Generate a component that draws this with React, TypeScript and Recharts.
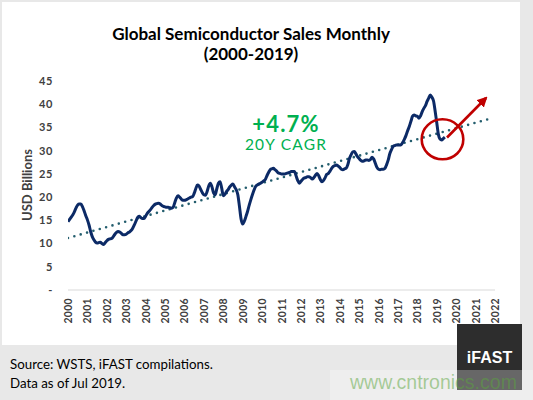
import React from 'react';
import { LineChart, Line, XAxis, YAxis } from 'recharts';

// Monthly global semiconductor sales (USD billions), Jan 2000 .. Jun 2019
const monthlySales: number[] = [
  // 2000
  14.7, 15.2, 15.7, 16.2, 16.9, 17.7, 18.3, 18.5, 18.5, 17.9, 17.0, 16.0,
  // 2001
  15.1, 14.0, 12.6, 11.5, 10.8, 10.3, 10.1, 10.2, 10.3, 10.0, 9.8, 10.2,
  // 2002
  10.6, 10.9, 11.0, 11.1, 11.5, 12.0, 12.4, 12.6, 12.5, 12.2, 11.9, 11.9,
  // 2003
  12.0, 12.3, 12.5, 12.8, 13.3, 14.0, 14.8, 15.6, 15.9, 15.6, 15.4, 15.4,
  // 2004
  15.9, 16.5, 16.9, 17.3, 17.8, 18.2, 18.5, 18.6, 18.7, 18.5, 18.2, 18.0,
  // 2005
  17.9, 17.8, 17.8, 17.7, 17.6, 17.8, 18.8, 19.8, 20.3, 20.0, 19.6, 19.3,
  // 2006
  19.3, 19.4, 19.6, 19.8, 20.0, 20.1, 20.8, 21.8, 22.6, 22.4, 21.7, 21.0,
  // 2007
  20.5, 20.4, 21.2, 22.4, 23.0, 22.2, 20.9, 20.5, 21.8, 23.0, 23.3, 22.0,
  // 2008
  20.3, 20.6, 21.2, 21.6, 22.2, 22.6, 22.8, 22.2, 21.6, 20.5, 18.0, 15.3,
  // 2009
  14.2, 14.8, 15.8, 16.9, 18.2, 19.4, 20.5, 21.5, 22.3, 22.6, 22.8, 23.0,
  // 2010
  23.2, 23.5, 23.8, 24.6, 25.3, 25.9, 26.1, 26.2, 25.9, 25.6, 25.2, 25.1,
  // 2011
  25.0, 25.0, 25.0, 25.1, 25.2, 25.3, 25.5, 25.5, 25.5, 24.6, 23.6, 23.0,
  // 2012
  23.4, 23.8, 24.1, 24.2, 24.4, 24.4, 24.2, 23.9, 24.2, 24.7, 25.1, 24.6,
  // 2013
  23.8, 23.3, 23.6, 24.2, 24.9, 25.1, 25.6, 26.2, 26.6, 26.8, 26.9, 26.7,
  // 2014
  26.4, 26.0, 25.9, 26.1, 26.2, 27.0, 28.3, 29.1, 29.7, 29.8, 29.3, 28.7,
  // 2015
  28.3, 27.9, 27.7, 27.8, 28.0, 28.0, 27.9, 28.1, 28.6, 28.2, 27.3, 26.4,
  // 2016
  26.0, 25.9, 26.0, 26.0, 26.2, 27.0, 28.0, 29.4, 30.2, 30.9, 31.1, 31.2,
  // 2017
  31.2, 31.2, 31.3, 31.8, 32.5, 33.3, 34.3, 35.2, 36.3, 37.4, 37.7, 37.5,
  // 2018
  37.4, 37.0, 37.5, 38.4, 39.1, 39.7, 40.6, 41.3, 42.0, 41.5, 40.7, 38.5,
  // 2019
  36.0, 33.5, 32.5, 32.3, 32.6, 32.9,
];
const firstYear = 2000;

// Linear trendline end points (year, USD billions)
const trendYears: number[] = [2000, 2021.75];
const trendValues: number[] = [11.2, 36.9];

const xTicks: number[] = [
  2000, 2001, 2002, 2003, 2004, 2005, 2006, 2007, 2008, 2009, 2010, 2011,
  2012, 2013, 2014, 2015, 2016, 2017, 2018, 2019, 2020, 2021, 2022,
];
const yTicks: number[] = [0, 5, 10, 15, 20, 25, 30, 35, 40, 45];

const salesData = monthlySales.map((v, i) => ({ t: firstYear + i / 12, v }));
const trendData = trendYears.map((t, i) => ({ t, v: trendValues[i] }));

const FONT = 'Lato, "DejaVu Sans", sans-serif';

const XTick = (props: any) => {
  const { x, y, payload } = props;
  const ay = y + 8;
  return (
    <text
      x={x}
      y={ay}
      transform={`rotate(-90 ${x} ${ay})`}
      textAnchor="end"
      dominantBaseline="central"
      fontFamily={FONT}
      fontWeight={700}
      fontSize={10.5}
      letterSpacing={0.3}
      fill="#404040"
    >
      {payload.value}
    </text>
  );
};

export default function App() {
  return (
    <div
      style={{
        position: 'absolute',
        left: 0,
        top: 0,
        width: 533,
        height: 400,
        background: '#e8e8e8',
        overflow: 'hidden',
      }}
    >
      <div
        style={{
          position: 'absolute',
          left: 2,
          top: 2,
          width: 518,
          height: 343,
          background: '#ffffff',
        }}
      />
      <div style={{ position: 'absolute', left: 0, top: 0 }}>
        <LineChart
          width={533}
          height={400}
          margin={{ top: 81, right: 38, bottom: 70, left: 8 }}
        >
          <XAxis
            type="number"
            dataKey="t"
            domain={[2000, 2022]}
            ticks={xTicks}
            interval={0}
            tick={<XTick />}
            tickLine={false}
            tickSize={0}
            tickMargin={0}
            height={40}
            stroke="#d9d9d9"
            allowDataOverflow
          />
          <YAxis
            type="number"
            domain={[0, 45]}
            ticks={yTicks}
            interval={0}
            axisLine={false}
            tickLine={false}
            tickSize={0}
            tickMargin={15}
            width={60}
            tickFormatter={(v: number) => (v === 0 ? '-' : String(v))}
            tick={{ fontFamily: FONT, fontWeight: 700, fontSize: 11, fill: '#404040', letterSpacing: 0.6 }}
          />
          <Line
            data={trendData}
            dataKey="v"
            type="linear"
            stroke="#245e6e"
            strokeWidth={2.6}
            strokeDasharray="0 6.6"
            strokeLinecap="round"
            dot={false}
            activeDot={false}
            isAnimationActive={false}
          />
          <Line
            data={salesData}
            dataKey="v"
            type="monotone"
            stroke="#0c2a66"
            strokeWidth={3}
            dot={false}
            activeDot={false}
            isAnimationActive={false}
          />
        </LineChart>
      </div>
      <svg
        width={533}
        height={400}
        style={{ position: 'absolute', left: 0, top: 0, pointerEvents: 'none' }}
      >
        <defs>
          <marker
            id="arrowHead"
            viewBox="0 0 10 10"
            refX="8"
            refY="5"
            markerWidth="4"
            markerHeight="4"
            orient="auto"
          >
            <path d="M0,0 L10,5 L0,10 z" fill="#c00000" />
          </marker>
        </defs>
        <text
          x={251}
          y={40}
          textAnchor="middle"
          fontFamily={FONT}
          fontWeight={700}
          fontSize={17}
          fill="#000"
        >
          Global Semiconductor Sales Monthly
        </text>
        <text
          x={251}
          y={60}
          textAnchor="middle"
          fontFamily={FONT}
          fontWeight={700}
          fontSize={17}
          fill="#000"
        >
          (2000-2019)
        </text>
        <text
          x={27}
          y={185}
          transform="rotate(-90 27 185)"
          textAnchor="middle"
          dominantBaseline="central"
          fontFamily={FONT}
          fontWeight={700}
          fontSize={13}
          fill="#404040"
        >
          USD Billions
        </text>
        <text
          x={286}
          y={132}
          textAnchor="middle"
          fontFamily={FONT}
          fontWeight={700}
          fontSize={22}
          letterSpacing={1.2}
          fill="#00b050"
        >
          +4.7%
        </text>
        <text
          x={286}
          y={150}
          textAnchor="middle"
          fontFamily={FONT}
          fontWeight={400}
          fontSize={15.5}
          letterSpacing={1.2}
          fill="#00b050"
        >
          20Y CAGR
        </text>
        <ellipse
          cx={442.5}
          cy={139.3}
          rx={20.8}
          ry={20}
          fill="none"
          stroke="#c00000"
          strokeWidth={2.6}
        />
        <line
          x1={447}
          y1={137.5}
          x2={486}
          y2={98}
          stroke="#c00000"
          strokeWidth={2.6}
          markerEnd="url(#arrowHead)"
        />
        <text x={10} y={369} fontFamily={FONT} fontSize={13.3} fill="#000">
          Source: WSTS, iFAST compilations.
        </text>
        <text x={10} y={388} fontFamily={FONT} fontSize={13.3} fill="#000">
          Data as of Jul 2019.
        </text>
        <rect x={457} y={324} width={65} height={66} fill="#2d2d2d" />
        <text
          x={489.5}
          y={363}
          textAnchor="middle"
          fontFamily='"Liberation Sans", Arial, sans-serif'
          fontWeight={700}
          fontSize={16}
          fill="#ffffff"
        >
          iFAST
        </text>
        <rect x={330} y={370} width={203} height={30} fill="rgba(255,255,255,0.28)" />
        <text
          x={350}
          y={389}
          fontFamily='"Liberation Sans", Arial, sans-serif'
          fontSize={19.5}
          fill="rgb(90,165,60)"
          fillOpacity={0.5}
        >
          www.cntronics.com
        </text>
      </svg>
    </div>
  );
}
